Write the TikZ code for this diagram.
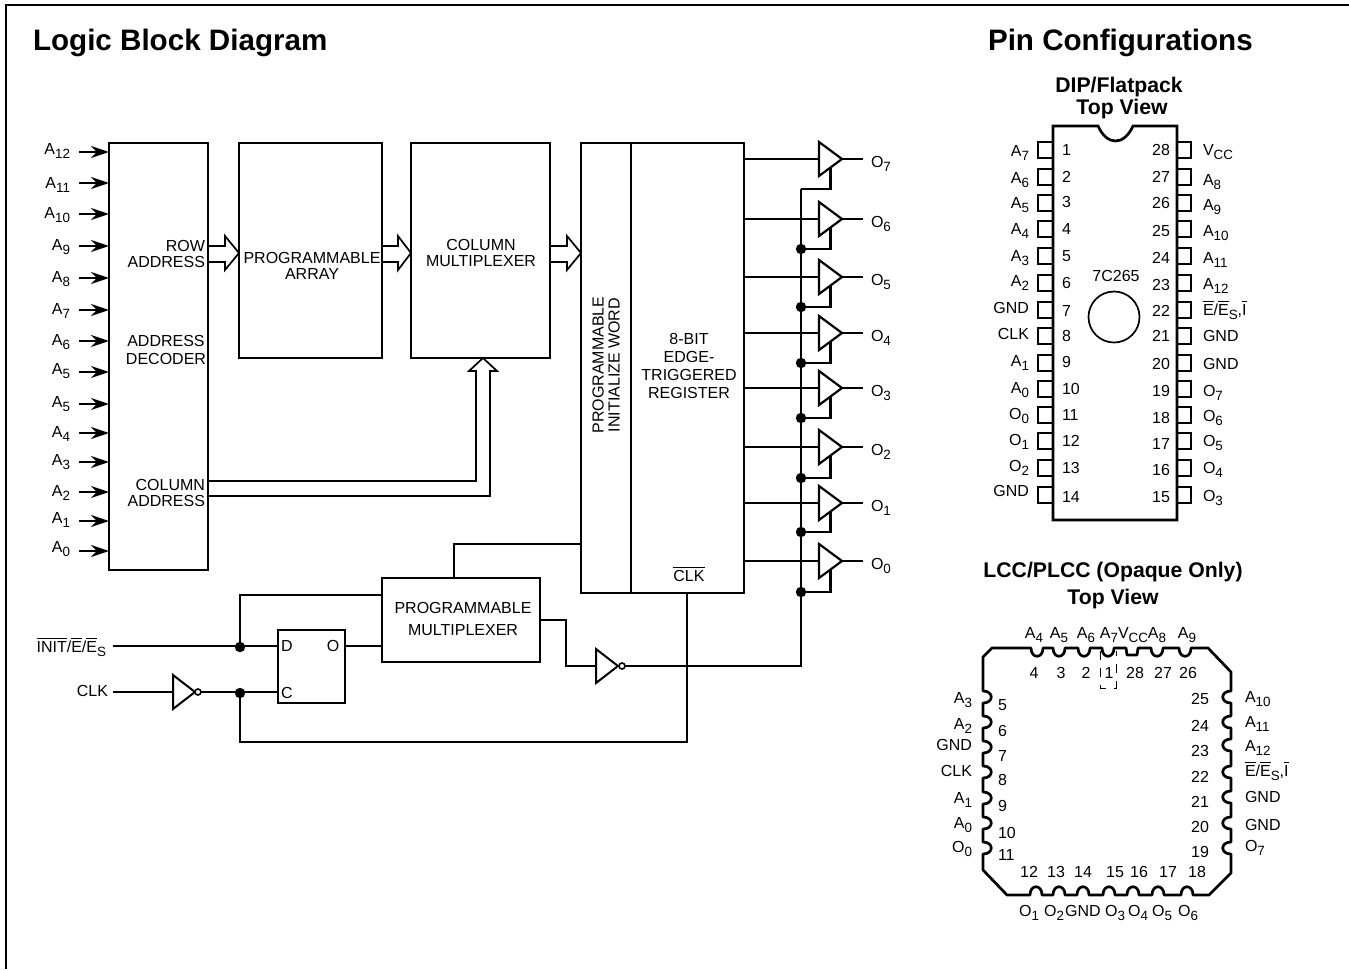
\documentclass[tikz,border=0pt]{standalone}
\usepackage{fontspec}
\setmainfont{Liberation Sans}
\usepackage{tikz}
\usetikzlibrary{arrows.meta}
\usetikzlibrary{calc}
\usetikzlibrary{shapes.geometric}

\newcommand{\sbs}[1]{\raisebox{-2pt}{\fontsize{6.7}{6.7}\selectfont #1}}
\newcommand{\ovl}[1]{$\overline{\mbox{#1}}$}

\begin{document}
\begin{tikzpicture}[x=0.5pt,y=-0.5pt,>={Stealth[length=9pt,width=6pt,inset=3pt]},
                    every node/.style={font=\fontsize{8}{8}\selectfont,inner sep=0pt,outer sep=0pt},
                    block/.style={draw,line width=0.85pt,anchor=north west},
                    wire/.style={line width=0.85pt},
                    bus/.style={line width=1.35pt},
                    title/.style={font=\fontsize{14.8}{14.8}\bfseries\selectfont,anchor=base west},
                    subtitle/.style={font=\fontsize{10.6}{10.6}\bfseries\selectfont},
                    buffer/.style={isosceles triangle,isosceles triangle stretches,draw,fill=white,
                        line width=1.1pt,anchor=apex,minimum height=11.5pt,minimum width=17pt},
                    bubble/.style={circle,draw,fill=white,line width=0.8pt,minimum size=3pt},
                    dot/.style={circle,fill=black,minimum size=5.2pt},
                    left label/.style={anchor=base east},
                    right label/.style={anchor=base west},
                    mid label/.style={anchor=base}]

    \useasboundingbox (0,0) rectangle (1349,969);
    \coordinate (framea) at (6,969);
    \coordinate (frameb) at (6,5);
    \coordinate (framec) at (1349,5);
    \draw[line width=1pt] (framea) -- (frameb) -- (framec);

    \node[title] (logictitle) at (33,50) {Logic Block Diagram};
    \node[title] (pintitle) at (988,50) {Pin Configurations};

    % logic blocks
    \node[block,minimum width=49.5pt,minimum height=213.5pt] (decoder) at (109,143) {};
    \node[block,minimum width=71.5pt,minimum height=107.5pt] (array) at (239,143) {};
    \node[block,minimum width=69.5pt,minimum height=107.5pt] (colmux) at (411,143) {};
    \node[block,minimum width=81.5pt,minimum height=225pt] (reg) at (581,143) {};
    \draw[wire] ([xshift=25pt]reg.north west) -- ([xshift=25pt]reg.south west);
    \node[block,line width=1.35pt,minimum width=79pt,minimum height=42pt] (progmux) at (382,578) {};
    \node[block,minimum width=33.5pt,minimum height=36.5pt] (latch) at (278,630) {};

    \node[anchor=east,align=right] (rowaddr) at (205,254) {ROW\\ADDRESS};
    \node[align=center] (decodertext) at (166,350) {ADDRESS\\[1pt]DECODER};
    \node[anchor=east,align=right] (coladdr) at (205,493) {COLUMN\\ADDRESS};
    \node[align=center] (arraytext) at (312,266) {PROGRAMMABLE\\ARRAY};
    \node[align=center] (colmuxtext) at (481,253) {COLUMN\\MULTIPLEXER};
    \node[align=center,rotate=90] (inittext) at (606,365) {PROGRAMMABLE\\INITIALIZE WORD};
    \node[align=center] (regtext) at (689,366) {8-BIT\\[1pt]EDGE-\\[1pt]TRIGGERED\\[1pt]REGISTER};
    \node[align=center] (progmuxtext) at (463,619) {PROGRAMMABLE\\[3pt]MULTIPLEXER};
    \node[mid label] (clkbar) at (689,581) {\ovl{CLK}};
    \node[mid label] (latchd) at (287,651) {D};
    \node[mid label] (latcho) at (333,651) {O};
    \node[mid label] (latchc) at (287,698) {C};

    % address inputs
    \foreach \lab/\y/\b [count=\i] in {A\sbs{12}/152/154,A\sbs{11}/183/188,A\sbs{10}/214/218,A\sbs{9}/246/250,
            A\sbs{8}/278/282,A\sbs{7}/310/314,A\sbs{6}/341/345,A\sbs{5}/372/374,A\sbs{5}/404/407,A\sbs{4}/433/437,
            A\sbs{3}/462/465,A\sbs{2}/492/496,A\sbs{1}/521/523,A\sbs{0}/551/552} {
        \node[left label] (addr\i) at (70,\b) {\lab};
        \coordinate (addrin\i) at (79,\y);
        \draw[bus,->] (addrin\i) -- (addrin\i -| decoder.west);
    }

    % hollow bus arrows
    \draw[wire] (decoder.east |- 0,246) -- (225,246) -- (225,236) -- (array.west |- 0,253)
        -- (225,270) -- (225,262) -- (decoder.east |- 0,262);
    \draw[wire] (array.east |- 0,246) -- (398,246) -- (398,236) -- (colmux.west |- 0,253)
        -- (398,270) -- (398,262) -- (array.east |- 0,262);
    \draw[wire] (colmux.east |- 0,246) -- (567,246) -- (567,236) -- (reg.west |- 0,253)
        -- (567,270) -- (567,262) -- (colmux.east |- 0,262);
    \draw[wire] (decoder.east |- 0,481) -- (476,481) -- (476,371) -- (469,371) -- (colmux.south -| 483,0)
        -- (497,371) -- (490,371) -- (490,496) -- (decoder.east |- 0,496);

    % output buffers
    \coordinate (ena7) at (801,189);
    \foreach \n/\e in {6/249,5/307,4/363,3/418,2/478,1/532,0/592} {
        \node[dot] (ena\n) at (801,\e) {};
    }
    \foreach \n/\y in {7/159,6/219,5/277,4/333,3/388,2/447,1/503,0/561} {
        \node[buffer] (buf\n) at (842,\y) {};
        \coordinate (out\n) at (863,\y);
        \node[right label] (outlab\n) at (871,\y+8) {O\sbs{\n}};
        \draw[bus] (buf\n.lower side -| reg.east) -- (buf\n.lower side);
        \draw[bus] (buf\n.apex) -- (out\n);
        \draw[bus] (buf\n.right side) |- (ena\n);
    }

    % control part
    \node[buffer,line width=1pt,minimum height=11pt] (enainv) at (618,666) {};
    \node[bubble] (enabub) at (622,666) {};
    \draw[bus] (ena7) |- (enabub.east);
    \draw[wire] (progmux.east |- 0,620) -- (566,620) |- (enainv.lower side);
    \draw[wire] (progmux.north -| 454,0) |- (reg.west |- 0,544);

    \node[left label] (initlab) at (106,652) {\ovl{INIT}/\ovl{E}/\ovl{E}\sbs{S}};
    \node[left label] (clklab) at (108,696) {CLK};
    \coordinate (initin) at (113,646);
    \coordinate (clkin) at (113,692);
    \node[dot] (dotd) at (240,647) {};
    \node[dot] (dotc) at (240,693) {};
    \node[buffer,line width=1pt,minimum height=11pt] (clkinv) at (195,692) {};
    \node[bubble] (clkbub) at (198,692) {};
    \draw[wire] (initin) -- (initin -| latch.west);
    \draw[wire] (clkin) -- (clkinv.lower side);
    \draw[wire] (clkbub.east) -- (clkbub.east -| latch.west);
    \draw[wire] (dotd) |- (progmux.west |- 0,595);
    \draw[wire] (latch.east |- 0,646) -- (progmux.west |- 0,646);
    \coordinate (regclk) at (reg.south -| 687,0);
    \coordinate (clkturn) at (687,742);
    \draw[wire] (regclk) -- (clkturn) -| (dotc);

    % DIP package
    \node[subtitle] (diptitle) at (1119,87) {DIP/Flatpack};
    \node[subtitle] (diptitleb) at (1122,109) {Top View};
    \coordinate (dipa) at (1053,126);
    \coordinate (dipb) at (1177,126);
    \coordinate (dipc) at (1177,520);
    \coordinate (dipd) at (1053,520);
    \draw[bus] (dipa) -- (1098,126) .. controls (1107,146) and (1124,146) .. (1133,126) -- (dipb)
        -- (dipc) -- (dipd) -- cycle;
    \node[mid label] (dipname) at (1116,281) {7C265};
    \node[circle,draw,wire,minimum size=25.5pt] (dipwindow) at (1114,317) {};

    \foreach \lab/\y/\b/\m [count=\i] in {A\sbs{7}/150/156/155,A\sbs{6}/177/183/182,A\sbs{5}/203/208/207,A\sbs{4}/229/234/234,
            A\sbs{3}/256/261/261,A\sbs{2}/283/286/288,GND/310/313/316,CLK/336/339/341,A\sbs{1}/363/366/367,
            A\sbs{0}/389/393/394,O\sbs{0}/415/419/420,O\sbs{1}/441/445/446,O\sbs{2}/468/471/473,GND/495/496/502} {
        \node[block,minimum width=7.5pt,minimum height=8pt,anchor=east] (leadl\i) at (dipa |- 0,\y) {};
        \node[left label] (pinl\i) at (1029,\b) {\lab};
        \node[right label] (numl\i) at (1062,\m) {\i};
    }
    \foreach \lab/\y/\b/\m/\n in {V\sbs{CC}/150/155/155/28,A\sbs{8}/177/185/182/27,A\sbs{9}/203/210/208/26,A\sbs{10}/229/236/236/25,
            A\sbs{11}/256/263/263/24,A\sbs{12}/283/289/290/23,{\ovl{E}/\ovl{E}\sbs{S},\ovl{I}}/310/315/316/22,GND/336/341/341/21,
            GND/363/369/369/20,O\sbs{7}/389/396/396/19,O\sbs{6}/415/421/423/18,O\sbs{5}/441/446/449/17,O\sbs{4}/468/473/475/16,
            O\sbs{3}/495/501/502/15} {
        \node[block,minimum width=7pt,minimum height=8pt,anchor=west] (leadr\n) at (dipb |- 0,\y) {};
        \node[right label] (pinr\n) at (1203,\b) {\lab};
        \node[left label] (numr\n) at (1170,\m) {\n};
    }

    % LCC package
    \node[subtitle] (lcctitle) at (1113,572) {LCC/PLCC (Opaque Only)};
    \node[subtitle] (lcctitleb) at (1113,599) {Top View};
    \coordinate (lcca) at (983,657);
    \coordinate (lccb) at (992,648);
    \coordinate (lccc) at (1208,648);
    \coordinate (lccd) at (1231,672);
    \coordinate (lcce) at (1231,873);
    \coordinate (lccf) at (1209,895);
    \coordinate (lccg) at (1007,895);
    \coordinate (lcch) at (983,870);
    \draw[line width=1.35pt,line join=round] (lcca) -- (lccb)
        foreach \x in {1037,1059,1084,1108} { -- (\x-6,648) .. controls (\x-6,659) and (\x+6,659) .. (\x+6,648) }
        -- (1126,648) -- (1127,655) -- (1137,655) -- (1138,648)
        foreach \x in {1157,1185} { -- (\x-6,648) .. controls (\x-6,659) and (\x+6,659) .. (\x+6,648) }
        -- (lccc) -- (lccd)
        foreach \y in {697,722,745,772,797,823,848} { -- (1231,\y-6) .. controls (1220,\y-6) and (1220,\y+6) .. (1231,\y+6) }
        -- (lcce) -- (lccf)
        foreach \x in {1187,1158,1133,1109,1083,1059,1036} { -- (\x+6,895) .. controls (\x+6,884) and (\x-6,884) .. (\x-6,895) }
        -- (lccg) -- (lcch)
        foreach \y in {848,823,798,772,747,722,697} { -- (983,\y+6) .. controls (994,\y+6) and (994,\y-6) .. (983,\y-6) }
        -- cycle;
    \coordinate (keya) at (1100,651);
    \coordinate (keyb) at (1100,688);
    \coordinate (keyc) at (1116,688);
    \coordinate (keyd) at (1116,651);
    \draw[line width=0.5pt,dash pattern=on 4.5pt off 4pt] (keya) -- (keyb) -- (keyc) -- (keyd);

    \foreach \lab/\x/\m/\n [count=\i] in {A\sbs{4}/1034/1034/4,A\sbs{5}/1059/1061/3,A\sbs{6}/1086/1086/2,A\sbs{7}/1109/1109/1,
            V\sbs{CC}/1133/1135/28,A\sbs{8}/1157/1163/27,A\sbs{9}/1187/1188/26} {
        \node[mid label] (lcctop\i) at (\x,638) {\lab};
        \node[mid label] (lcctopn\i) at (\m,678) {\n};
    }
    \foreach \lab/\b/\m/\n [count=\i] in {A\sbs{3}/703/710/5,A\sbs{2}/729/736/6,GND/750/761/7,CLK/776/785/8,A\sbs{1}/803/811/9,
            A\sbs{0}/828/838/10,O\sbs{0}/852/860/11} {
        \node[left label] (lccl\i) at (972,\b) {\lab};
        \node[right label] (lccln\i) at (998,\m) {\n};
    }
    \foreach \lab/\b/\m/\n [count=\i] in {A\sbs{10}/702/704/25,A\sbs{11}/727/731/24,A\sbs{12}/751/756/23,
            {\ovl{E}/\ovl{E}\sbs{S},\ovl{I}}/776/782/22,GND/802/807/21,GND/830/832/20,O\sbs{7}/851/857/19} {
        \node[right label] (lccr\i) at (1245,\b) {\lab};
        \node[left label] (lccrn\i) at (1209,\m) {\n};
    }
    \foreach \lab/\x/\m/\n [count=\i] in {O\sbs{1}/1029/1029/12,O\sbs{2}/1054/1056/13,GND/1083/1083/14,O\sbs{3}/1115/1115/15,
            O\sbs{4}/1138/1139/16,O\sbs{5}/1162/1168/17,O\sbs{6}/1188/1197/18} {
        \node[mid label] (lccb\i) at (\x,916) {\lab};
        \node[mid label] (lccbn\i) at (\m,877) {\n};
    }
\end{tikzpicture}
\end{document}
